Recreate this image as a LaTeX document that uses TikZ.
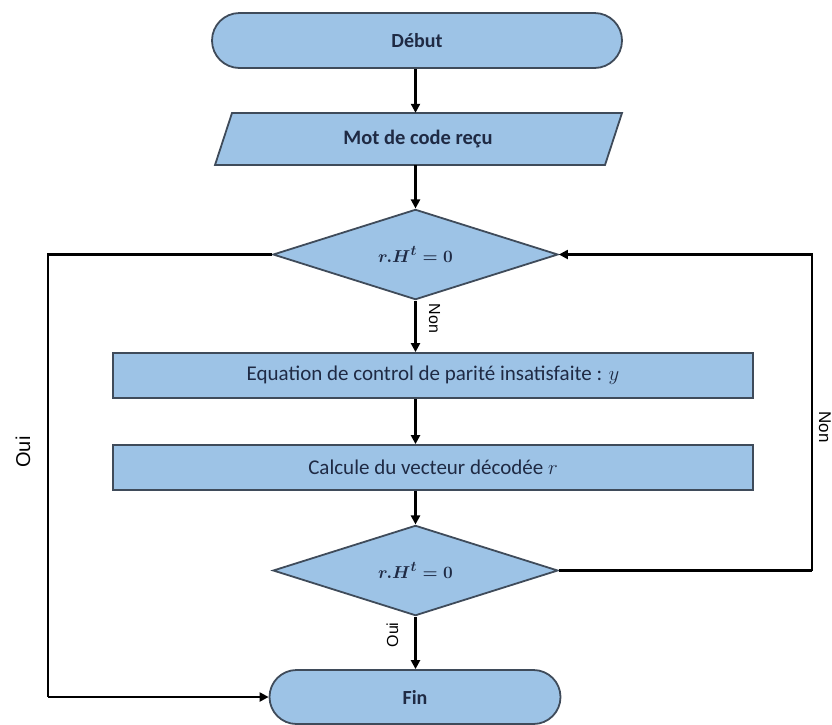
\documentclass[tikz,border=0pt]{standalone}
\usepackage{fontspec}
\setmainfont{Carlito}
\newfontfamily\labelfont{Liberation Sans}
\usetikzlibrary{arrows.meta,shapes.geometric,shapes.misc,calc}

\definecolor{boxfill}{HTML}{9DC3E6}
\definecolor{boxline}{HTML}{3F4B5A}
\definecolor{boxtext}{HTML}{1F2A44}

\newcommand{\parity}{\ensuremath{r.H^{t}=0}}

\tikzset{
  shapebase/.style={fill=boxfill, draw=boxline, line width=1.8pt, text=boxtext,
    inner sep=0pt, font=\fontsize{21}{24}\selectfont},
  terminal/.style={shapebase, rounded rectangle, font=\bfseries\fontsize{20}{23}\selectfont},
  process/.style={shapebase, rectangle, minimum height=45pt},
  choice/.style={shapebase, diamond, minimum width=285pt, minimum height=88pt,
    font=\boldmath\fontsize{19}{22}\selectfont},
  flow/.style={line width=2.2pt, -{Triangle[length=9pt,width=9pt]}},
  plain/.style={line width=2.2pt},
  edgelabel/.style={font=\labelfont\fontsize{16}{19}\selectfont, text=black, inner sep=0pt}
}

\begin{document}
\begin{tikzpicture}[x=1pt,y=-1pt]
\useasboundingbox (0,0) rectangle (832,724);

% terminals
\node[terminal, minimum width=410pt, minimum height=55pt] (debut) at (417,40.5) {Début};
\node[terminal, minimum width=291pt, minimum height=54pt] (fin) at (415,697) {Fin};

% input parallelogram and its text node
\path[shapebase] (232,113) -- (622,113) -- (605,165) -- (215,165) -- cycle;
\node[inner sep=0pt, minimum width=390pt, minimum height=52pt, text=boxtext,
      font=\bfseries\fontsize{20.5}{23}\selectfont] (mot) at (418,139) {Mot de code reçu};

% decisions
\node[choice] (d1) at (415.5,254.5) {\parity};
\node[choice] (d2) at (415.5,570.5) {\parity};

% processing steps
\node[process, minimum width=640pt] (r1) at (433,375.5) {Equation de control de parité insatisfaite : $y$};
\node[process, minimum width=640pt] (r2) at (433,467.5) {Calcule du vecteur décodée $r$};

% loop corners
\coordinate (lc) at (48,697);
\coordinate (rc) at (812,570.5);

% main flow
\draw[flow] (debut.south -| d1.north) -- (d1.north |- mot.north);
\draw[flow] (d1.north |- mot.south) -- (d1.north);
\draw[flow] (d1.south) -- (d1.south |- r1.north)
  node[edgelabel, pos=0.35, xshift=19pt, rotate=-90] {Non};
\draw[flow] (d1.south |- r1.south) -- (d1.south |- r2.north);
\draw[flow] (d1.south |- r2.south) -- (d2.north);
\draw[flow] (d2.south) -- (d2.south |- fin.north)
  node[edgelabel, pos=0.35, xshift=-23pt, rotate=90] {Oui};

% side branches
\draw[plain] (d1.west) -| (lc);
\draw[flow] (lc) -- (fin.west);
\node[edgelabel, rotate=90, font=\labelfont\fontsize{20}{23}\selectfont] (oui) at (23,452) {Oui};

\draw[plain] (d2.east) -- (rc);
\draw[flow] (rc) |- (d1.east);
\node[edgelabel, rotate=-90, font=\labelfont\fontsize{17}{20}\selectfont] (non) at (825,427) {Non};
\end{tikzpicture}
\end{document}
